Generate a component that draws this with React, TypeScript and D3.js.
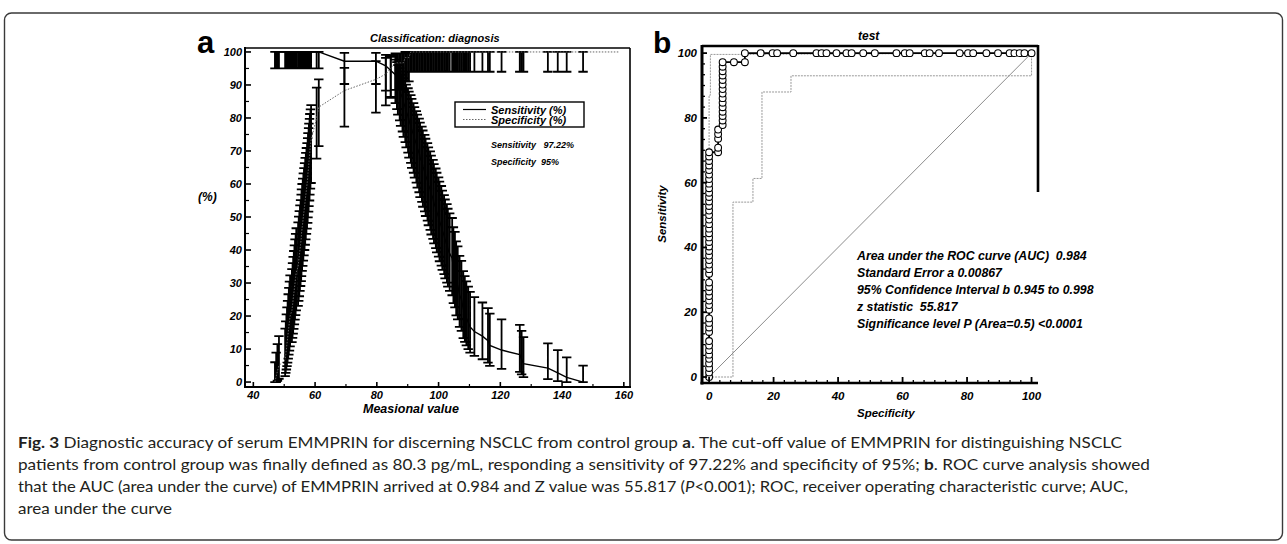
import React from 'react';
import * as d3 from 'd3';

// ---------- Panel a: criterion values (cutoff) with sensitivity / specificity and 95% CI ----------
// row = [cutoff, sensitivity, sensLower, sensUpper, specificity, specLower, specUpper]
type Row = [number, number, number, number, number, number, number];

const rowsRising: Row[] = [
  [47.0, 100, 95, 100, 0.0, 0.0, 6.0],
  [47.4, 100, 95, 100, 1.7, 0.0, 8.9],
  [47.8, 100, 95, 100, 3.3, 0.4, 11.5],
  [48.3, 100, 95, 100, 5.0, 1.0, 13.9],
  [50.3, 100, 95, 100, 6.7, 1.8, 16.2],
  [50.5, 100, 95, 100, 8.3, 2.8, 18.4],
  [50.7, 100, 95, 100, 10.0, 3.8, 20.5],
  [50.9, 100, 95, 100, 11.7, 4.8, 22.6],
  [51.1, 100, 95, 100, 13.3, 5.9, 24.6],
  [51.3, 100, 95, 100, 15.0, 7.1, 26.6],
  [51.5, 100, 95, 100, 16.7, 8.3, 28.5],
  [51.7, 100, 95, 100, 18.3, 9.5, 30.4],
  [51.9, 100, 95, 100, 20.0, 10.8, 32.3],
  [52.5, 100, 95, 100, 21.7, 12.1, 34.2],
  [52.7, 100, 95, 100, 23.3, 13.4, 36.0],
  [52.9, 100, 95, 100, 25.0, 14.7, 37.9],
  [53.1, 100, 95, 100, 26.7, 16.1, 39.7],
  [53.3, 100, 95, 100, 28.3, 17.5, 41.4],
  [53.5, 100, 95, 100, 30.0, 18.9, 43.2],
  [53.7, 100, 95, 100, 31.7, 20.3, 44.9],
  [53.9, 100, 95, 100, 33.3, 21.7, 46.6],
  [54.5, 100, 95, 100, 35.0, 23.1, 48.4],
  [54.7, 100, 95, 100, 36.7, 24.6, 50.1],
  [54.9, 100, 95, 100, 38.3, 26.0, 51.8],
  [55.1, 100, 95, 100, 40.0, 27.6, 53.5],
  [55.3, 100, 95, 100, 41.7, 29.1, 55.1],
  [55.5, 100, 95, 100, 43.3, 30.6, 56.8],
  [55.6, 100, 95, 100, 45.0, 32.1, 58.4],
  [55.8, 100, 95, 100, 46.7, 33.7, 60.0],
  [56.0, 100, 95, 100, 48.3, 35.2, 61.6],
  [56.2, 100, 95, 100, 50.0, 36.8, 63.2],
  [56.4, 100, 95, 100, 51.7, 38.4, 64.8],
  [56.6, 100, 95, 100, 53.3, 40.0, 66.3],
  [56.8, 100, 95, 100, 55.0, 41.6, 67.9],
  [57.0, 100, 95, 100, 56.7, 43.2, 69.4],
  [57.2, 100, 95, 100, 58.3, 44.9, 70.9],
  [57.4, 100, 95, 100, 60.0, 46.5, 72.4],
  [57.6, 100, 95, 100, 61.7, 48.2, 73.9],
  [57.7, 100, 95, 100, 63.3, 49.9, 75.4],
  [57.9, 100, 95, 100, 65.0, 51.6, 76.9],
  [58.0, 100, 95, 100, 66.7, 53.3, 78.3],
  [58.2, 100, 95, 100, 68.3, 55.0, 79.7],
  [58.3, 100, 95, 100, 70.0, 56.8, 81.2],
  [58.5, 100, 95, 100, 71.7, 58.6, 82.6],
  [58.7, 100, 95, 100, 73.3, 60.3, 83.9],
  [60.5, 100, 95, 100, 80.0, 67.7, 89.2],
  [61.2, 100, 95, 100, 83.3, 71.5, 91.7],
];

const rowsMiddle: Row[] = [
  [69.5, 97.2, 90.3, 99.7, 88.3, 77.4, 95.2],
  [79.7, 97.2, 90.3, 99.7, 91.7, 81.6, 97.2],
  [82.9, 95.8, 88.3, 99.1, 93.3, 83.8, 98.2],
  [84.5, 94.4, 86.4, 98.5, 95.0, 86.1, 99.0],
];

const rowsFalling: Row[] = [
  [86.0, 93.1, 84.5, 97.7, 96.7, 88.5, 99.6],
  [86.5, 91.7, 82.7, 96.9, 96.7, 88.5, 99.6],
  [86.8, 90.3, 81.0, 96.0, 96.7, 88.5, 99.6],
  [87.4, 88.9, 79.3, 95.1, 96.7, 88.5, 99.6],
  [87.7, 87.5, 77.6, 94.1, 96.7, 88.5, 99.6],
  [88.3, 86.1, 75.9, 93.1, 96.7, 88.5, 99.6],
  [88.6, 84.7, 74.3, 92.1, 96.7, 88.5, 99.6],
  [89.2, 83.3, 72.7, 91.1, 98.3, 91.1, 100],
  [89.5, 81.9, 71.1, 90.1, 98.3, 91.1, 100],
  [90.1, 80.6, 69.5, 89.0, 98.3, 91.1, 100],
  [90.4, 79.2, 68.0, 88.0, 98.3, 91.1, 100],
  [91.0, 77.8, 66.4, 86.9, 100, 94, 100],
  [91.3, 76.4, 64.9, 85.8, 100, 94, 100],
  [91.9, 75.0, 63.4, 84.5, 100, 94, 100],
  [92.2, 73.6, 61.9, 83.3, 100, 94, 100],
  [92.8, 72.2, 60.4, 82.1, 100, 94, 100],
  [93.1, 70.8, 58.9, 81.0, 100, 94, 100],
  [93.7, 69.4, 57.5, 79.8, 100, 94, 100],
  [94.0, 68.1, 56.0, 78.6, 100, 94, 100],
  [94.6, 66.7, 54.6, 77.4, 100, 94, 100],
  [94.9, 65.3, 53.1, 76.2, 100, 94, 100],
  [95.5, 63.9, 51.7, 74.9, 100, 94, 100],
  [95.8, 62.5, 50.3, 73.7, 100, 94, 100],
  [96.4, 61.1, 48.9, 72.4, 100, 94, 100],
  [96.7, 59.7, 47.5, 71.1, 100, 94, 100],
  [97.3, 58.3, 46.1, 69.9, 100, 94, 100],
  [97.6, 56.9, 44.7, 68.6, 100, 94, 100],
  [98.2, 55.6, 43.4, 67.3, 100, 94, 100],
  [98.5, 54.2, 42.0, 66.0, 100, 94, 100],
  [99.1, 52.8, 40.6, 64.7, 100, 94, 100],
  [99.4, 51.4, 39.3, 63.4, 100, 94, 100],
  [100.0, 50.0, 38.0, 62.0, 100, 94, 100],
  [100.3, 48.6, 36.6, 60.7, 100, 94, 100],
  [100.9, 47.2, 35.3, 59.4, 100, 94, 100],
  [101.2, 45.8, 34.0, 58.0, 100, 94, 100],
  [101.8, 44.4, 32.7, 56.6, 100, 94, 100],
  [102.1, 43.1, 31.4, 55.3, 100, 94, 100],
  [102.7, 41.7, 30.1, 53.9, 100, 94, 100],
  [103.0, 40.3, 28.9, 52.5, 100, 94, 100],
  [103.6, 38.9, 27.6, 51.1, 100, 94, 100],
  [104.4, 37.5, 26.3, 49.7, 100, 94, 100],
  [104.8, 34.7, 23.9, 46.9, 100, 94, 100],
  [105.3, 33.3, 22.6, 45.5, 100, 94, 100],
  [105.7, 30.6, 20.2, 42.6, 100, 94, 100],
  [106.2, 29.2, 19.0, 41.1, 100, 94, 100],
  [106.8, 26.4, 16.7, 38.2, 100, 94, 100],
  [107.4, 25.0, 15.5, 36.7, 100, 94, 100],
  [108.0, 22.2, 13.3, 33.6, 100, 94, 100],
  [108.5, 20.8, 12.2, 32.1, 100, 94, 100],
  [109.0, 19.4, 11.1, 30.5, 100, 94, 100],
  [109.6, 18.1, 10.0, 28.9, 100, 94, 100],
];

const rowsTail: Row[] = [
  [110.2, 16.7, 8.9, 27.3, 100, 94, 100],
  [111.6, 15.3, 7.9, 25.7, 100, 94, 100],
  [114.2, 13.9, 6.9, 24.1, 100, 94, 100],
  [116.0, 12.5, 5.9, 22.4, 100, 94, 100],
  [116.6, 11.1, 4.9, 20.7, 100, 94, 100],
  [120.4, 9.7, 4.0, 19.0, 100, 94, 100],
  [126.3, 8.3, 3.1, 17.3, 100, 94, 100],
  [126.9, 6.9, 2.3, 15.5, 100, 94, 100],
  [127.5, 5.6, 1.5, 13.6, 100, 94, 100],
  [135.4, 4.2, 0.9, 11.7, 100, 94, 100],
  [138.6, 2.8, 0.3, 9.7, 100, 94, 100],
  [141.5, 1.4, 0.0, 7.5, 100, 94, 100],
  [146.8, 0.0, 0.0, 5.0, 100, 94, 100],
];

const specificityEnd: [number, number] = [158.5, 100];

const aYTicks = [0, 10, 20, 30, 40, 50, 60, 70, 80, 90, 100];
const aXTicks = [40, 60, 80, 100, 120, 140, 160];

// ---------- Panel b: ROC curve (x = 100 - specificity, y = sensitivity) ----------
const rocPoints: [number, number][] = [
  [0, 0], [0, 1.4], [0, 2.8], [0, 4.2], [0, 5.6], [0, 6.9], [0, 8.3], [0, 9.7], [0, 11.1],
  [0, 13.9], [0, 15.3], [0, 16.7], [0, 18.1], [0, 20.8], [0, 22.2], [0, 23.6], [0, 25.0],
  [0, 26.4], [0, 27.8], [0, 29.2], [0, 31.9], [0, 33.3], [0, 34.7], [0, 36.1], [0, 37.5],
  [0, 38.9], [0, 40.3], [0, 41.7], [0, 43.1], [0, 44.4], [0, 45.8], [0, 47.2], [0, 48.6],
  [0, 50.0], [0, 51.4], [0, 52.8], [0, 54.2], [0, 55.6], [0, 56.9], [0, 58.3], [0, 59.7],
  [0, 61.1], [0, 62.5], [0, 63.9], [0, 65.3], [0, 66.7], [0, 68.1], [0, 69.4],
  [2.8, 69.4], [2.8, 70.8], [2.8, 73.6], [2.8, 75.0], [2.8, 76.4],
  [4.2, 77.8], [4.2, 79.2], [4.2, 80.6], [4.2, 81.9], [4.2, 83.3], [4.2, 84.7], [4.2, 86.1],
  [4.2, 87.5], [4.2, 88.9], [4.2, 90.3], [4.2, 91.7], [4.2, 93.1], [4.2, 94.4], [4.2, 95.8],
  [4.2, 97.2], [7.7, 97.2], [11.1, 97.2], [11.1, 100],
  [16.0, 100], [19.7, 100], [21.1, 100], [26.1, 100], [33.3, 100], [34.9, 100], [36.4, 100],
  [39.5, 100], [42.6, 100], [44.2, 100], [47.8, 100], [51.4, 100], [58.1, 100], [60.7, 100],
  [62.2, 100], [66.9, 100], [68.4, 100], [71.3, 100], [77.7, 100], [80.3, 100], [81.9, 100],
  [86.0, 100], [89.6, 100], [93.2, 100], [94.7, 100], [96.3, 100], [97.8, 100], [100, 100],
];

const rocUpperCI: [number, number][] = [
  [0, 0], [0, 87], [0.4, 87], [0.4, 99.6], [11, 99.6], [100, 100],
];
const rocLowerCI: [number, number][] = [
  [0, 0], [7.4, 0], [7.4, 54], [13.6, 54], [13.6, 61.3], [16.4, 61.3], [16.4, 88],
  [25.4, 88], [25.4, 93], [100, 93], [100, 100],
];
const rocDiagonal: [number, number][] = [[0, 0], [100, 100]];
const bTicks = [0, 20, 40, 60, 80, 100];

const rocStats = [
  'Area under the ROC curve (AUC)  0.984',
  'Standard Error a 0.00867',
  '95% Confidence Interval b 0.945 to 0.998',
  'z statistic  55.817',
  'Significance level P (Area=0.5) <0.0001',
];

const FONT = "'Liberation Sans', Arial, Helvetica, sans-serif";
const CAP_FONT = "Lato, 'Open Sans', sans-serif";

function errorBarPath(xs: number[], los: number[], his: number[], w: number) {
  let d = '';
  for (let i = 0; i < xs.length; i++) {
    const x = xs[i], lo = los[i], hi = his[i];
    if (Math.abs(lo - hi) < 0.5) continue;
    d += `M${x - w},${lo}H${x + w}M${x},${lo}V${hi}M${x - w},${hi}H${x + w}`;
  }
  return d;
}

type Seg = { t: string; b?: boolean; i?: boolean };
const captionLines: { segs: Seg[]; len: number }[] = [
  {
    segs: [
      { t: 'Fig. 3', b: true },
      { t: ' Diagnostic accuracy of serum EMMPRIN for discerning NSCLC from control group ' },
      { t: 'a', b: true },
      { t: '. The cut-off value of EMMPRIN for distinguishing NSCLC' },
    ],
    len: 1104,
  },
  {
    segs: [
      { t: 'patients from control group was finally defined as 80.3 pg/mL, responding a sensitivity of 97.22% and specificity of 95%; ' },
      { t: 'b', b: true },
      { t: '. ROC curve analysis showed' },
    ],
    len: 1132,
  },
  {
    segs: [
      { t: 'that the AUC (area under the curve) of EMMPRIN arrived at 0.984 and Z value was 55.817 (' },
      { t: 'P', i: true },
      { t: '<0.001); ROC, receiver operating characteristic curve; AUC,' },
    ],
    len: 1110,
  },
  { segs: [{ t: 'area under the curve' }], len: 154 },
];

export default function App() {
  // ---- panel a scales
  const xA = d3.scaleLinear().domain([37.3, 162]).range([245, 630]);
  const yA = d3.scaleLinear().domain([-1.5, 101.2]).range([387, 48]);
  const rows: Row[] = [...rowsRising, ...rowsMiddle, ...rowsFalling, ...rowsTail];

  const sensLine = d3.line<Row>().x((r) => xA(r[0])).y((r) => yA(r[1]))(rows) || '';
  const specPts: [number, number][] = rows.map((r) => [r[0], r[4]] as [number, number]);
  specPts.push(specificityEnd);
  const specLine = d3.line<[number, number]>().x((d) => xA(d[0])).y((d) => yA(d[1]))(specPts) || '';

  const xs = rows.map((r) => xA(r[0]));
  const sensBars = errorBarPath(xs, rows.map((r) => yA(r[2])), rows.map((r) => yA(r[3])), 4.7);
  const specBars = errorBarPath(xs, rows.map((r) => yA(r[5])), rows.map((r) => yA(r[6])), 4.7);

  const aMinorY = d3.range(5, 100, 10);
  const aMinorX = d3.range(50, 160, 20);

  // ---- panel b scales
  const xB = d3.scaleLinear().domain([-2.2, 102]).range([702, 1038]);
  const yB = d3.scaleLinear().domain([-1.85, 102.2]).range([383, 46]);
  const lineB = d3.line<[number, number]>().x((d) => xB(d[0])).y((d) => yB(d[1]));
  const bMinor = d3.range(0, 100.01, 20 / 6).filter((v) => Math.abs(v / 20 - Math.round(v / 20)) > 0.01);

  const tickFont = { fontFamily: FONT, fontWeight: 700, fontStyle: 'italic' as const };

  return (
    <div style={{ position: 'absolute', left: 0, top: 0 }}>
      <svg width={1287} height={544} viewBox="0 0 1287 544" style={{ display: 'block', background: '#fff' }}>
        {/* outer figure border */}
        <rect x={4.5} y={13} width={1278} height={527} rx={7} fill="none" stroke="#3a3a3a" strokeWidth={1.4} />

        {/* ================= Panel a ================= */}
        <text x={197} y={53} fontFamily={FONT} fontWeight={700} fontSize={31} fill="#000">a</text>
        <text x={370} y={42} {...tickFont} fontSize={11} fill="#000">Classification: diagnosis</text>

        <path d={specBars} fill="none" stroke="#000" strokeWidth={1.8} />
        <path d={sensBars} fill="none" stroke="#000" strokeWidth={1.8} />
        <path d={specLine} fill="none" stroke="#666" strokeWidth={1} strokeDasharray="1.5 1.5" />
        <path d={sensLine} fill="none" stroke="#000" strokeWidth={1.4} />

        {/* frame */}
        <line x1={245} y1={48} x2={630} y2={48} stroke="#000" strokeWidth={1.3} />
        <line x1={630} y1={48} x2={630} y2={387} stroke="#000" strokeWidth={1.6} />
        <line x1={245} y1={47} x2={245} y2={388} stroke="#000" strokeWidth={2} />
        <line x1={244} y1={387} x2={631} y2={387} stroke="#000" strokeWidth={2} />

        {aYTicks.map((v) => (
          <g key={'ay' + v}>
            <line x1={245} x2={251} y1={yA(v)} y2={yA(v)} stroke="#000" strokeWidth={1.6} />
            <text x={242} y={yA(v) + 4} textAnchor="end" {...tickFont} fontSize={11} fill="#000">{v}</text>
          </g>
        ))}
        {aMinorY.map((v) => (
          <line key={'amy' + v} x1={245} x2={249} y1={yA(v)} y2={yA(v)} stroke="#000" strokeWidth={1.2} />
        ))}
        {aXTicks.map((v) => (
          <g key={'ax' + v}>
            <line x1={xA(v)} x2={xA(v)} y1={387} y2={382} stroke="#000" strokeWidth={1.6} />
            <text x={xA(v)} y={399} textAnchor="middle" {...tickFont} fontSize={11} fill="#000">{v}</text>
          </g>
        ))}
        {aMinorX.map((v) => (
          <line key={'amx' + v} x1={xA(v)} x2={xA(v)} y1={387} y2={384} stroke="#000" strokeWidth={1.2} />
        ))}
        <text x={198} y={201} {...tickFont} fontSize={12} fill="#000">(%)</text>
        <text x={363} y={413} {...tickFont} fontSize={12.5} fill="#000">Measional value</text>

        {/* legend */}
        <rect x={455} y={102} width={129} height={25} fill="#fff" stroke="#000" strokeWidth={1.4} />
        <line x1={463} x2={486} y1={109.5} y2={109.5} stroke="#000" strokeWidth={1.2} />
        <line x1={463} x2={486} y1={119.5} y2={119.5} stroke="#666" strokeWidth={1} strokeDasharray="1.5 1.5" />
        <text x={491} y={113.5} {...tickFont} fontSize={11} fill="#000">Sensitivity (%)</text>
        <text x={491} y={123.5} {...tickFont} fontSize={11} fill="#000">Specificity (%)</text>
        <text x={491} y={148} {...tickFont} fontSize={9} fill="#000" style={{ whiteSpace: 'pre' }}>Sensitivity   97.22%</text>
        <text x={491} y={165} {...tickFont} fontSize={9} fill="#000" style={{ whiteSpace: 'pre' }}>Specificity  95%</text>

        {/* ================= Panel b ================= */}
        <text x={653} y={53} fontFamily={FONT} fontWeight={700} fontSize={30} fill="#000">b</text>
        <text x={858} y={40} {...tickFont} fontSize={12} fill="#000">test</text>

        <path d={lineB(rocDiagonal) || ''} fill="none" stroke="#8c8c8c" strokeWidth={1} />
        <path d={lineB(rocLowerCI) || ''} fill="none" stroke="#999" strokeWidth={1} strokeDasharray="2 1" />
        <path d={lineB(rocUpperCI) || ''} fill="none" stroke="#999" strokeWidth={1} strokeDasharray="2 1" />
        <path d={lineB(rocPoints) || ''} fill="none" stroke="#000" strokeWidth={1.8} />
        {rocPoints.map((p, i) => (
          <circle key={'rp' + i} cx={xB(p[0])} cy={yB(p[1])} r={3.4} fill="#fff" stroke="#000" strokeWidth={1.1} />
        ))}

        {/* frame */}
        <line x1={702} y1={46} x2={1038} y2={46} stroke="#000" strokeWidth={2.4} />
        <line x1={1038} y1={45} x2={1038} y2={192} stroke="#000" strokeWidth={2.6} />
        <line x1={702} y1={45} x2={702} y2={384.5} stroke="#000" strokeWidth={3} />
        <line x1={700.5} y1={383} x2={1038} y2={383} stroke="#000" strokeWidth={2.4} />

        {bTicks.map((v) => (
          <g key={'by' + v}>
            <line x1={702} x2={707} y1={yB(v)} y2={yB(v)} stroke="#000" strokeWidth={1.8} />
            <text x={697} y={yB(v) + 4} textAnchor="end" {...tickFont} fontSize={11.5} fill="#000">{v}</text>
            <line x1={xB(v)} x2={xB(v)} y1={383} y2={377} stroke="#000" strokeWidth={1.8} />
            <text x={xB(v)} y={400} textAnchor="middle" {...tickFont} fontSize={11.5} fill="#000">{v}</text>
          </g>
        ))}
        {bMinor.map((v, i) => (
          <g key={'bm' + i}>
            <line x1={702} x2={705} y1={yB(v)} y2={yB(v)} stroke="#000" strokeWidth={1.3} />
            <line x1={xB(v)} x2={xB(v)} y1={383} y2={380} stroke="#000" strokeWidth={1.3} />
          </g>
        ))}
        <text transform="translate(666,214) rotate(-90)" textAnchor="middle" {...tickFont} fontSize={11.5} fill="#000">Sensitivity</text>
        <text x={857} y={417} {...tickFont} fontSize={11.5} fill="#000">Specificity</text>

        {rocStats.map((s, i) => (
          <text key={'st' + i} x={857} y={260 + i * 17} {...tickFont} fontSize={12.3} fill="#000" style={{ whiteSpace: 'pre' }}>{s}</text>
        ))}

        {/* ================= Caption ================= */}
        {captionLines.map((ln, li) => (
          <text
            key={'cap' + li}
            x={18}
            y={448 + li * 22}
            fontFamily={CAP_FONT}
            fontSize={15}
            fill="#231f20"
            textLength={ln.len}
            lengthAdjust="spacingAndGlyphs"
            style={{ whiteSpace: 'pre' }}
          >
            {ln.segs.map((s, si) => (
              <tspan key={si} fontWeight={s.b ? 700 : 400} fontStyle={s.i ? 'italic' : 'normal'}>{s.t}</tspan>
            ))}
          </text>
        ))}
      </svg>
    </div>
  );
}
